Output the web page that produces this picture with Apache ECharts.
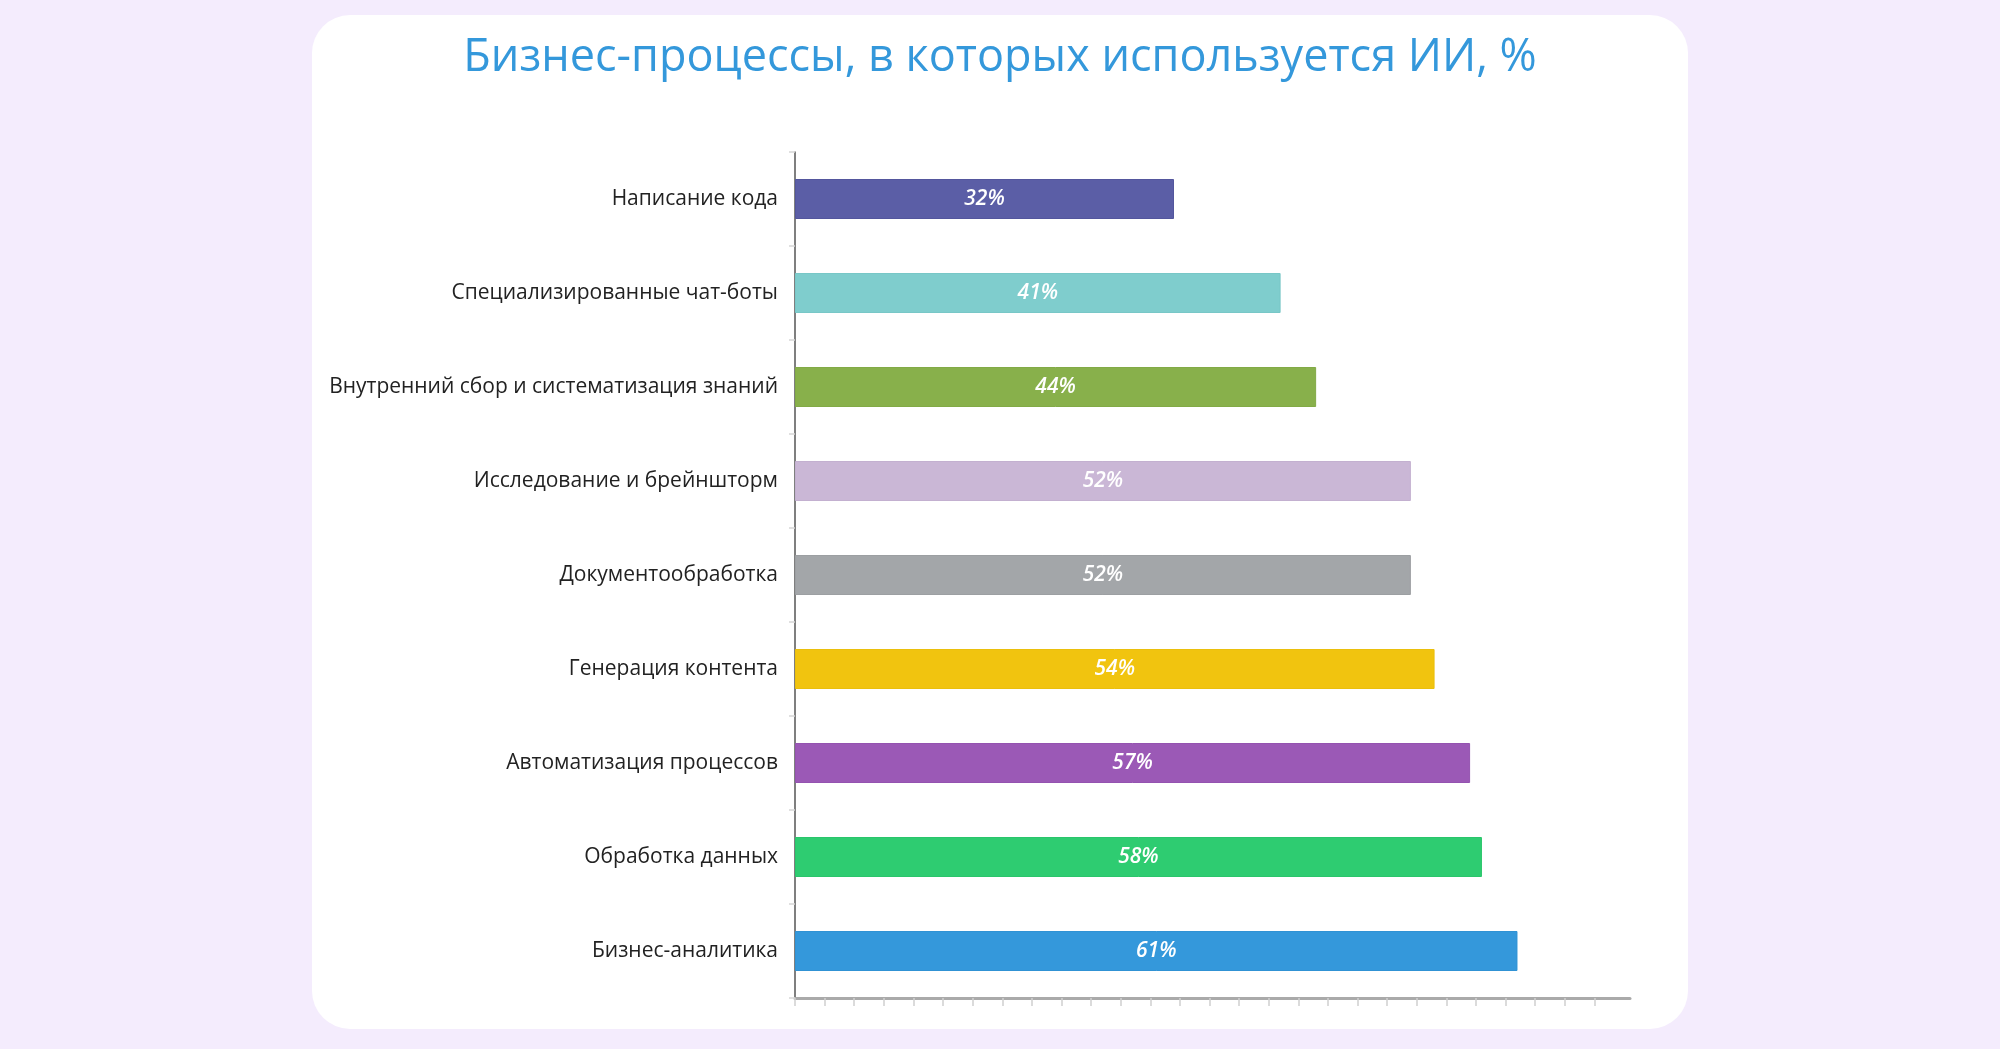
<!DOCTYPE html>
<html>
<head>
<meta charset="utf-8">
<script src="https://cdn.jsdelivr.net/npm/echarts@6/dist/echarts.min.js"></script>
<style>
html,body{margin:0;padding:0;background:#f4ecfd;}
#chart{width:2000px;height:1049px;}
</style>
</head>
<body>
<div id="chart"></div>
<script>
const titleText = 'Бизнес-процессы, в которых используется ИИ, %';
const categories = [
  'Написание кода',
  'Специализированные чат-боты',
  'Внутренний сбор и систематизация знаний',
  'Исследование и брейншторм',
  'Документообработка',
  'Генерация контента',
  'Автоматизация процессов',
  'Обработка данных',
  'Бизнес-аналитика'
];
const values = [32, 41, 44, 52, 52, 54, 57, 58, 61];
const barColors = ['#5b5ea6', '#7fcdcd', '#88b04b', '#cab7d6', '#a3a6a9', '#f1c40f', '#9b59b6', '#2ecc71', '#3498db'];
const borderColors = ['#53569d', '#78c7c7', '#82aa46', '#c3b0d0', '#9c9fa2', '#eabf0c', '#9453b0', '#2ac56b', '#3092d4'];

const xMax = 70.5;
const tickStep = 2.5;
const tickValues = [];
for (let v = 0; v <= 67.5; v += tickStep) tickValues.push(v);

const chart = echarts.init(document.getElementById('chart'));
chart.setOption({
  backgroundColor: '#f4ecfd',
  animation: false,
  graphic: [{
    type: 'rect',
    z: -10,
    silent: true,
    shape: {x: 312, y: 15, width: 1376, height: 1014, r: 38},
    style: {fill: '#ffffff'}
  }],
  title: {
    text: titleText,
    left: 'center',
    top: 31,
    textStyle: {
      fontFamily: 'Open Sans',
      fontWeight: 'normal',
      fontSize: 45,
      color: '#3498db'
    }
  },
  grid: {left: 795, right: 370, top: 152, bottom: 51, containLabel: false},
  xAxis: {
    type: 'value',
    min: 0,
    max: xMax,
    interval: tickStep,
    axisLine: {show: true, lineStyle: {color: '#aaaaaa', width: 3}},
    axisTick: {show: true, customValues: tickValues, length: 8, lineStyle: {color: '#d0d0d0', width: 1.5}},
    axisLabel: {show: false},
    splitLine: {show: false}
  },
  yAxis: {
    type: 'category',
    inverse: true,
    data: categories,
    axisLine: {show: true, lineStyle: {color: '#555555', width: 1.5}},
    axisTick: {show: true, length: 6, lineStyle: {color: '#d6d6d6', width: 1.5}},
    axisLabel: {
      margin: 17,
      fontFamily: 'Open Sans',
      fontSize: 21,
      color: '#222222'
    }
  },
  series: [{
    type: 'bar',
    data: values.map((v, i) => ({
      value: v,
      itemStyle: {color: barColors[i], borderColor: borderColors[i], borderWidth: 1}
    })),
    barWidth: 40,
    label: {
      show: true,
      position: 'inside',
      formatter: '{c}%',
      fontFamily: 'Open Sans',
      fontStyle: 'italic',
      fontWeight: 600,
      fontSize: 21,
      color: '#ffffff'
    }
  }]
});
</script>
</body>
</html>
